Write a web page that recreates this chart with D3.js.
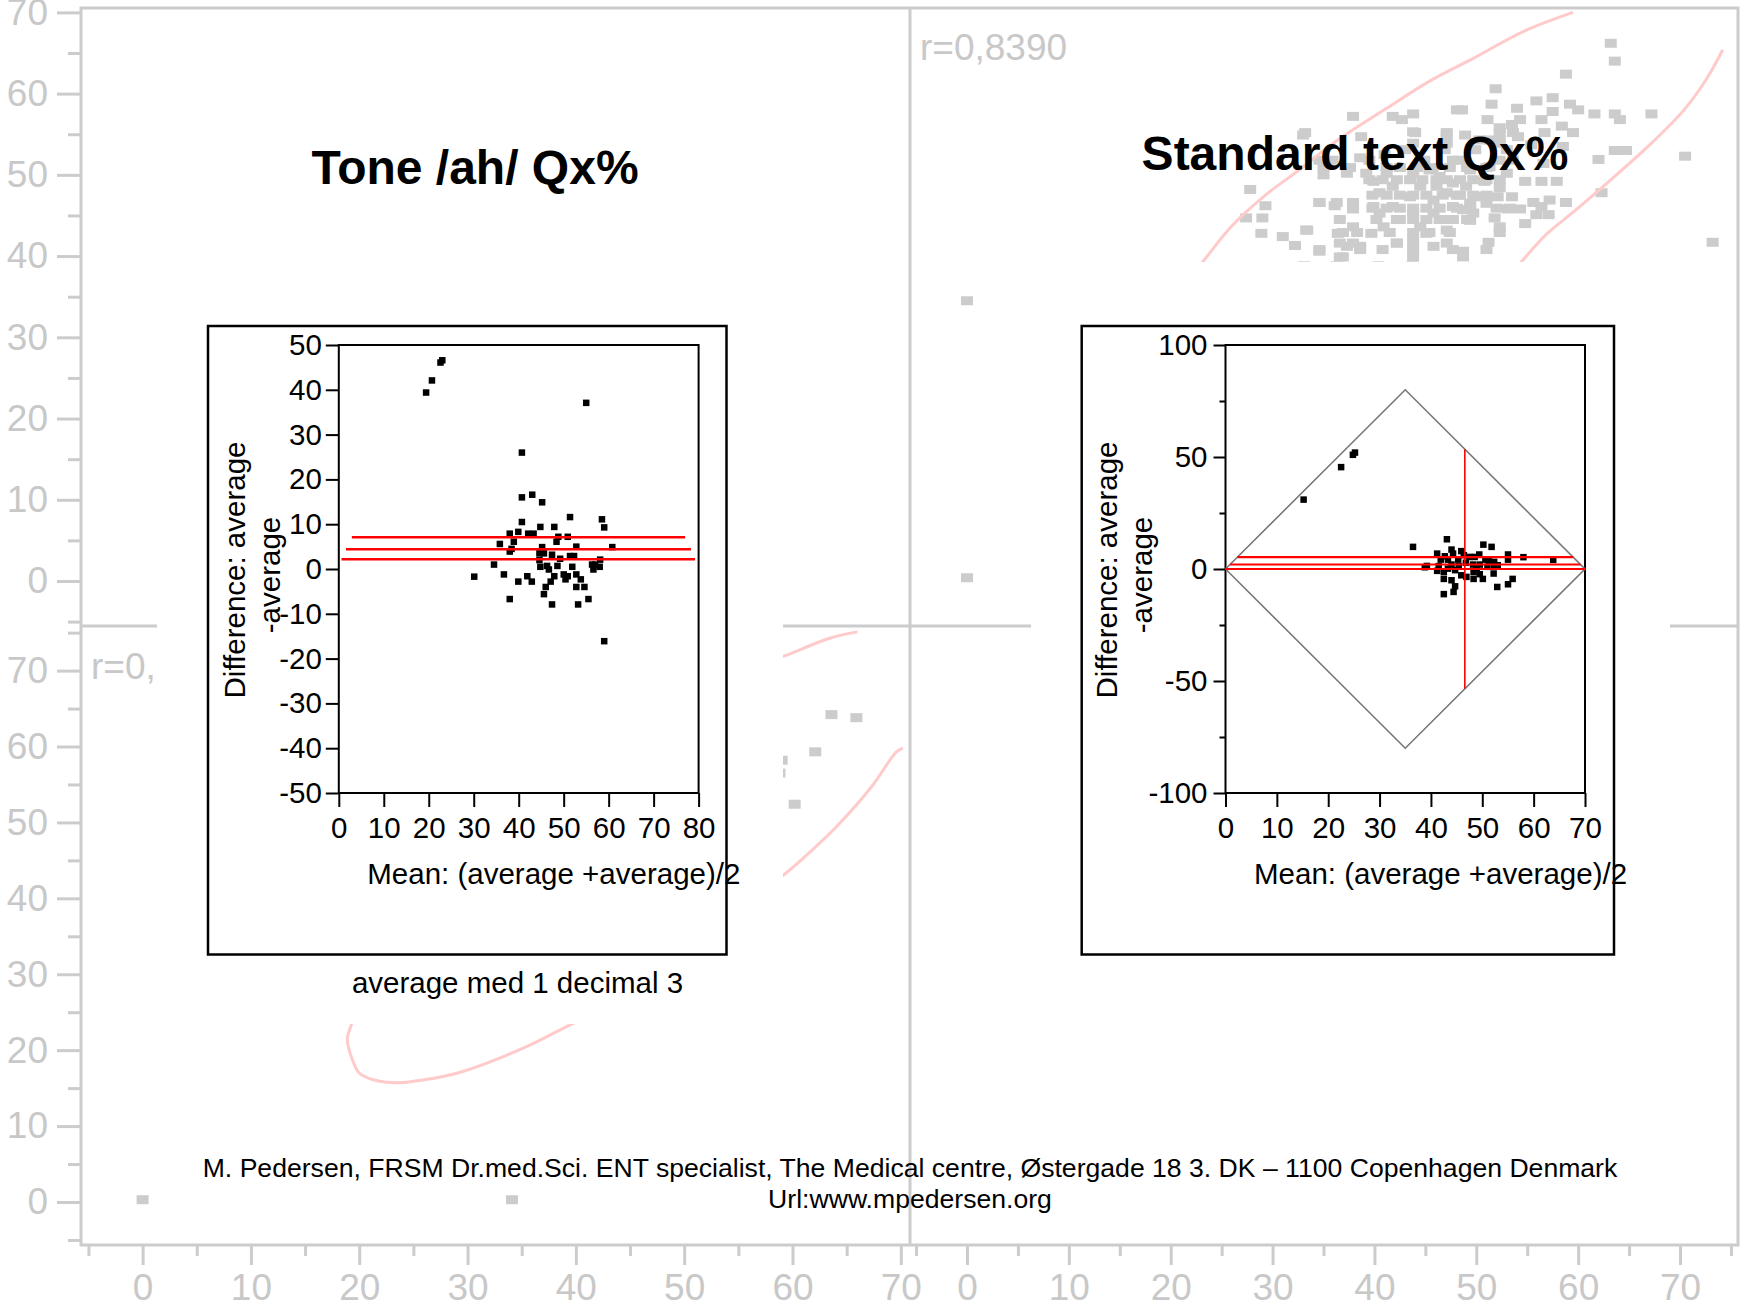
<!DOCTYPE html>
<html>
<head>
<meta charset="utf-8">
<script src="https://cdn.jsdelivr.net/npm/d3@7"></script>
<style>
  html, body { margin: 0; padding: 0; background: #fff; }
  svg { display: block; font-family: "Liberation Sans", Arial, sans-serif; }
</style>
</head>
<body>
<svg id="chart" width="1744" height="1310"></svg>
<script>
// ---- background scatter matrix (grey) ----
const GRID_TICKS = [0, 10, 20, 30, 40, 50, 60, 70];
const GRID_MINOR_SHORT = [-5, 5, 15, 25, 35, 45, 55, 65];
const GRID_MINOR_LONG = [-5, 5, 15, 25, 35, 45, 55, 65, 75];
const R_LABEL = "r=0,8390";

// upper right panel: standard text vs tone
const upperRightGrey = [
  [37.9,57.2],[33.0,54.9],[41.8,57.2],[42.7,56.8],[43.8,57.5],[43.8,55.3],[48.1,58.0],[47.1,54.9],
  [27.8,48.2],[29.3,46.2],[27.4,44.7],[29.0,44.7],[28.9,42.8],[33.3,43.2],[31.0,42.4],[32.2,41.3],
  [34.6,46.6],[36.1,46.2],[37.9,45.8],[36.6,44.5],[37.9,43.6],[36.4,42.8],[37.3,41.2],[38.6,41.2],
  [39.7,42.8],[34.6,40.6],[40.9,43.6],[42.2,41.6],[43.8,41.8],[45.1,42.8],[45.8,41.2],[47.1,43.2],
  [35.0,51.0],[35.0,50.0],[38.7,54.7],[39.9,49.2],[40.5,47.8],[41.8,48.6],[43.5,47.3],[44.5,48.6],
  [45.8,46.9],[47.1,47.8],[47.7,46.1],[41.8,46.1],[43.8,45.3],[45.8,45.3],[40.5,45.3],[39.9,46.1],
  [47.7,49.0],[46.4,49.8],[43.8,50.2],[41.2,50.2],[39.2,50.2],[37.3,50.2],[42.2,44.5],[44.5,43.6],
  [47.1,44.5],[46.1,48.6],[63.2,66.2],[63.6,64.0],[58.8,62.4],[51.9,60.6],[51.5,58.7],[48.6,58.0],
  [54.0,58.2],[55.9,59.1],[57.5,59.5],[57.5,57.8],[59.2,58.7],[60.0,58.0],[61.6,57.5],[63.6,57.5],
  [64.1,56.8],[67.2,57.5],[56.4,56.8],[54.3,56.8],[53.5,56.2],[52.3,55.8],[58.4,56.0],[56.7,55.2],
  [59.5,55.2],[52.3,54.3],[54.1,54.7],[55.4,53.7],[58.5,53.5],[63.6,53.0],[64.7,53.0],[62.0,51.9],
  [70.5,52.3],[53.0,53.1],[56.6,51.4],[54.8,49.2],[56.4,49.2],[57.9,49.2],[53.0,50.2],[51.3,51.0],
  [49.4,50.6],[49.0,48.6],[50.8,49.2],[52.3,48.4],[53.5,47.3],[52.1,47.3],[50.3,47.3],[62.3,47.8],
  [58.8,46.6],[55.6,46.6],[57.2,46.9],[56.4,46.1],[54.3,45.8],[53.1,45.8],[49.4,46.5],[51.0,46.5],
  [49.7,45.3],[48.7,45.7],[55.9,45.1],[57.1,45.1],[51.8,44.7],[54.8,44.0],[52.3,43.6],[49.4,44.4],
  [51.2,41.7],[48.7,40.6],[73.2,41.7],[36.9,39.9],[33.1,38.8],[36.3,38.8],[40.4,38.8],[43.7,38.8],
  [48.4,51.8],[49.9,53.1],[50.3,54.3],[48.9,54.9],[46.9,53.1],[44.9,51.8],[43.0,53.1],[41.0,52.5],
  [38.6,52.1],[45.4,50.6],[48.4,47.5],[51.3,54.3],[51.1,56.8],[0,34.5],[0,0.4],
  [39.5,49.4],[40.8,49.4],[42.2,49.4],[43.5,49.4],[44.7,49.4],[46.1,49.4],[47.1,49.4],[48.4,49.4],
  [49.7,49.4],[51.0,49.4],[52.3,49.4],[39.8,47.5],[41.2,47.5],[42.5,47.5],[43.8,47.5],[45.1,47.5],
  [46.7,47.5],[48.1,47.5],[49.7,47.5],[51.0,47.5],[39.8,45.9],[41.2,45.9],[42.5,45.9],[43.8,45.9],
  [45.1,45.9],[46.4,45.9],[48.1,45.9],[49.4,45.9],[52.0,45.9],[53.3,45.9],[40.2,44.5],[42.5,44.5],
  [43.8,44.5],[45.1,44.5],[46.4,44.5],[47.7,44.5],[49.1,44.5],[36.9,42.9],[38.3,42.9],[41.5,42.9],
  [43.8,42.9],[45.4,42.9],[47.4,42.9],[52.3,42.9],[37.6,50.9],[41.2,50.9],[42.5,50.9],[44.2,50.9],
  [45.7,50.9],[47.4,50.9],[49.1,50.9],[51.0,50.9],[34.6,51.8],[35.9,51.8],[39.5,51.8],[47.7,51.8],
  [52.3,51.8],[53.6,51.8],[43.8,53.9],[47.1,53.9],[52.3,53.9],[33.2,55.2],[44.0,55.2],[47.1,55.2],
  [52.3,55.2],[53.6,55.2],[34.6,46.6],[36.3,46.6],[37.9,46.6],[33.4,43.2],[34.6,40.8],[38.6,40.8],
  [40.8,40.8],[43.8,40.8],[47.7,40.8],[51.0,40.8],[36.6,39.9],[43.8,39.9],[48.7,39.9],[36.6,41.6],
  [37.9,41.6],[42.2,41.6],[47.1,41.6]
];
const upperRightEllipseTop = [
  [59.5,70.0],[54.7,67.7],[49.8,64.4],[45.5,61.6],[41.2,58.2],[36.3,54.2],[32.6,50.6],[29.3,47.5],
  [26.0,43.7],[23.4,39.7],[22.7,38.6]
];
const upperRightEllipseBottom = [
  [74.2,65.4],[72.6,61.8],[70.4,58.0],[67.2,53.9],[63.4,49.6],[59.6,45.5],[56.9,42.7],[54.5,39.4],
  [53.9,38.5]
];

// lower left panel: tone vs standard text
const lowerLeftGrey = [
  [63.6,64.2],[65.9,63.8],[62.1,59.3],[59.0,58.2],[58.8,56.5],[60.2,52.4],[0,0.3],[34.1,0.3]
];
const lowerLeftEllipseTop = [[58.0,71.3],[59.2,71.9],[63.5,74.3],[66.0,75.1]];
const lowerLeftEllipseRight = [
  [58.0,41.9],[59.2,43.1],[61.0,45.3],[64.1,49.5],[67.3,54.7],[69.6,59.3],[70.2,59.8]
];
const lowerLeftEllipseBottom = [
  [19.4,24.5],[19.3,23.5],[18.9,21.5],[19.3,19.0],[20.0,17.0],[21.3,16.1],[23.5,15.7],[26.0,16.1],
  [29.1,17.0],[32.5,18.7],[36.1,20.9],[39.7,23.5],[41.3,24.5]
];

// ---- inset 1: Tone /ah/ Qx% (Bland-Altman) ----
const toneXTicks = [0, 10, 20, 30, 40, 50, 60, 70, 80];
const toneYTicks = [-50, -40, -30, -20, -10, 0, 10, 20, 30, 40, 50];
const tonePoints = [
  [19.4,39.4],[20.7,42.1],[22.6,46.1],[23.0,46.6],[55.0,37.1],[40.7,26.0],[40.7,16.0],[43.0,16.6],
  [45.2,14.9],[51.4,11.6],[58.5,11.1],[59.0,9.3],[40.7,10.5],[44.8,9.4],[47.9,9.4],[38.0,7.9],
  [39.9,8.3],[42.1,7.9],[43.3,7.9],[35.8,5.6],[38.9,6.1],[48.8,7.2],[50.9,7.2],[48.4,6.1],
  [38.4,4.5],[38.0,3.9],[45.2,4.9],[52.8,5.0],[60.8,4.9],[44.6,3.5],[45.6,3.5],[47.4,3.2],
  [44.6,2.0],[49.2,2.3],[51.4,2.9],[52.3,2.9],[58.1,2.1],[34.5,1.0],[44.8,0.5],[46.3,0.7],
  [48.6,0.7],[51.9,0.5],[56.3,1.0],[57.0,1.0],[58.0,0.5],[56.6,-0.1],[46.7,-0.1],[30.1,-1.7],
  [36.7,-1.2],[41.9,-1.6],[47.9,-1.6],[50.0,-1.2],[50.9,-1.6],[52.8,-1.2],[39.9,-2.8],[42.9,-2.8],
  [47.1,-2.8],[50.4,-2.3],[53.8,-2.3],[46.0,-4.0],[52.8,-4.0],[54.6,-4.0],[45.6,-5.6],[38.0,-6.7],
  [55.5,-6.7],[47.4,-7.9],[53.2,-7.9],[59.0,-16.1]
];
const toneLimitY = [7.1, 4.4, 2.2];
const toneLimitFrom = [2.9, 1.6, 0.6];
const toneLimitTo = [77.0, 78.3, 79.2];

// ---- inset 2: Standard text Qx% (Bland-Altman) ----
const textXTicks = [0, 10, 20, 30, 40, 50, 60, 70];
const textYTicks = [-100, -50, 0, 50, 100];
const textYMinor = [-75, -25, 25, 75];
const textPoints = [
  [15.2,31.0],[22.5,45.5],[24.8,51.0],[25.2,52.0],[36.5,9.9],[43.1,13.3],[50.2,10.9],[51.8,9.9],
  [39.2,1.4],[38.8,0.8],[41.2,6.9],[44.0,8.7],[45.9,8.0],[42.7,5.7],[44.3,6.9],[41.9,4.2],
  [43.3,4.2],[45.3,4.2],[47.5,5.4],[48.5,5.4],[49.4,6.5],[50.6,4.2],[52.3,3.2],[55.0,6.5],
  [55.0,4.2],[58.0,5.3],[63.8,4.1],[41.5,1.3],[44.0,2.0],[45.4,1.3],[48.2,2.0],[49.5,2.0],
  [51.0,1.0],[52.3,1.0],[53.0,1.7],[42.5,-1.3],[44.7,-0.5],[45.9,-2.8],[48.3,-1.3],[49.5,-2.3],
  [52.2,-2.0],[42.5,-4.4],[44.0,-5.0],[48.3,-4.4],[50.1,-4.4],[55.0,-6.8],[55.9,-4.4],[44.7,-7.7],
  [52.9,-8.0],[44.4,-10.2],[42.5,-11.2],[46.9,-3.5],[41.2,-0.8],[48.9,0.2],[46.8,2.8],[43.3,0.2],
  [51.3,3.7],[46.4,6.2]
];
const textLimitY = [5.3, 2.0, 0.0];
const textLimitFrom = [2.3, 0.9, 0.0];
const textLimitTo = [67.7, 69.1, 70.0];
const textMeanX = 46.6;
const textMeanSpan = [-53.5, 53.5];
const textDiamond = [[0, 0], [35, 80], [70, 0], [35, -80], [0, 0]];

const Y_TITLE = ["Difference: average", "-average"];
const X_TITLE = "Mean: (average +average)/2";
const FOOTER = [
  "M. Pedersen, FRSM Dr.med.Sci. ENT specialist, The Medical centre, \u00D8stergade 18 3. DK \u2013 1100 Copenhagen Denmark",
  "Url:www.mpedersen.org"
];

const GREY = "#cccccc";
const GREY_TEXT = "#c8c8c8";
const PINK = "#ffcaca";
const FONT = "Liberation Sans, Arial, sans-serif";

const svg = d3.select("#chart");

// scales for the grey matrix
const leftX = d3.scaleLinear().domain([0, 70]).range([142.6, 900.8]);
const rightX = d3.scaleLinear().domain([0, 70]).range([967, 1680]);
const upperY = d3.scaleLinear().domain([0, 70]).range([581, 12.4]);
const lowerY = d3.scaleLinear().domain([0, 70]).range([1202, 670.6]);

const bg = svg.append("g");

function styleGrey(g) {
  g.attr("font-family", FONT).attr("font-size", 37);
  g.select(".domain").remove();
  g.selectAll(".tick line").attr("stroke", GREY).attr("stroke-width", 3);
  g.selectAll(".tick text").attr("fill", GREY_TEXT);
}

// left axes
[[upperY, GRID_MINOR_SHORT], [lowerY, GRID_MINOR_LONG]].forEach(([sc, minor]) => {
  bg.append("g").attr("transform", "translate(81,0)")
    .call(d3.axisLeft(sc).tickValues(GRID_TICKS).tickSize(24).tickPadding(9).tickFormat(String))
    .call(styleGrey);
  bg.append("g").attr("transform", "translate(81,0)")
    .call(d3.axisLeft(sc).tickValues(minor).tickSize(13).tickFormat(""))
    .call(styleGrey);
});
// bottom axes
[[leftX, GRID_MINOR_SHORT], [rightX, GRID_MINOR_LONG]].forEach(([sc, minor]) => {
  bg.append("g").attr("transform", "translate(0,1245)")
    .call(d3.axisBottom(sc).tickValues(GRID_TICKS).tickSize(20).tickPadding(9).tickFormat(String))
    .call(styleGrey);
  bg.append("g").attr("transform", "translate(0,1245)")
    .call(d3.axisBottom(sc).tickValues(minor).tickSize(11).tickFormat(""))
    .call(styleGrey);
});

// frame and panel dividers
bg.append("rect").attr("x", 81).attr("y", 8).attr("width", 1657).attr("height", 1237)
  .attr("fill", "none").attr("stroke", GREY).attr("stroke-width", 3);
bg.append("line").attr("x1", 910).attr("x2", 910).attr("y1", 8).attr("y2", 1245)
  .attr("stroke", GREY).attr("stroke-width", 3);
bg.append("line").attr("x1", 81).attr("x2", 1738).attr("y1", 626).attr("y2", 626)
  .attr("stroke", GREY).attr("stroke-width", 3);

function greyPoints(data, sx, sy) {
  bg.append("g").selectAll("rect").data(data).join("rect")
    .attr("x", d => sx(d[0]) - 6).attr("y", d => sy(d[1]) - 4.5)
    .attr("width", 12).attr("height", 9).attr("fill", GREY);
}
function pinkCurve(data, sx, sy) {
  const line = d3.line().x(d => sx(d[0])).y(d => sy(d[1])).curve(d3.curveCatmullRom);
  bg.append("path").datum(data).attr("d", line)
    .attr("fill", "none").attr("stroke", PINK).attr("stroke-width", 3);
}

greyPoints(upperRightGrey, rightX, upperY);
greyPoints(lowerLeftGrey, leftX, lowerY);
pinkCurve(upperRightEllipseTop, rightX, upperY);
pinkCurve(upperRightEllipseBottom, rightX, upperY);
pinkCurve(lowerLeftEllipseTop, leftX, lowerY);
pinkCurve(lowerLeftEllipseRight, leftX, lowerY);
pinkCurve(lowerLeftEllipseBottom, leftX, lowerY);

bg.append("text").attr("x", 920).attr("y", 60).attr("font-size", 37).attr("fill", GREY_TEXT).text(R_LABEL);
bg.append("text").attr("x", 91).attr("y", 679).attr("font-size", 37).attr("fill", GREY_TEXT).text(R_LABEL);

// white picture backgrounds pasted over the matrix
svg.append("rect").attr("x", 157).attr("y", 262).attr("width", 626).attr("height", 762).attr("fill", "#fff");
svg.append("rect").attr("x", 1031).attr("y", 262).attr("width", 639).attr("height", 762).attr("fill", "#fff");

// titles
svg.append("text").attr("x", 475).attr("y", 184).attr("text-anchor", "middle")
  .attr("font-size", 48).attr("font-weight", "bold").text("Tone /ah/ Qx%");
svg.append("text").attr("x", 1355).attr("y", 170).attr("text-anchor", "middle")
  .attr("font-size", 48).attr("font-weight", "bold").text("Standard text Qx%");

// ---- Bland-Altman insets ----
function drawInset(cfg) {
  const g = svg.append("g");
  g.append("rect").attr("x", cfg.box[0]).attr("y", cfg.box[1])
    .attr("width", cfg.box[2] - cfg.box[0]).attr("height", cfg.box[3] - cfg.box[1])
    .attr("fill", "#fff").attr("stroke", "#000").attr("stroke-width", 2.5);

  const x = cfg.x, y = cfg.y;
  const [x0, x1] = x.range(), [y0, y1] = y.range();

  const styleAxis = a => {
    a.attr("font-family", FONT).attr("font-size", 29.5);
    a.select(".domain").remove();
    a.selectAll(".tick line").attr("stroke", "#000").attr("stroke-width", 2);
    a.selectAll(".tick text").attr("fill", "#000");
  };
  g.append("g").attr("transform", `translate(${x0},0)`)
    .call(d3.axisLeft(y).tickValues(cfg.yTicks).tickSize(cfg.yTickSize).tickPadding(cfg.yPad).tickFormat(String))
    .call(styleAxis);
  if (cfg.yMinor) {
    g.append("g").attr("transform", `translate(${x0},0)`)
      .call(d3.axisLeft(y).tickValues(cfg.yMinor).tickSize(6).tickFormat(""))
      .call(styleAxis);
  }
  g.append("g").attr("transform", `translate(0,${y0})`)
    .call(d3.axisBottom(x).tickValues(cfg.xTicks).tickSize(14).tickPadding(10).tickFormat(String))
    .call(styleAxis);

  g.append("rect").attr("x", x0).attr("y", y1).attr("width", x1 - x0).attr("height", y0 - y1)
    .attr("fill", "none").attr("stroke", "#000").attr("stroke-width", 2);

  if (cfg.diamond) {
    g.append("path").datum(cfg.diamond)
      .attr("d", d3.line().x(d => x(d[0])).y(d => y(d[1])))
      .attr("fill", "none").attr("stroke", "#777").attr("stroke-width", 1.6);
  }

  g.append("g").selectAll("rect").data(cfg.points).join("rect")
    .attr("x", d => x(d[0]) - 3.2).attr("y", d => y(d[1]) - 3.2)
    .attr("width", 6.5).attr("height", 6.5).attr("fill", "#000");

  g.append("g").selectAll("line").data(cfg.limY).join("line")
    .attr("x1", (d, i) => x(cfg.limFrom[i])).attr("x2", (d, i) => x(cfg.limTo[i]))
    .attr("y1", d => y(d)).attr("y2", d => y(d))
    .attr("stroke", "#ff0000").attr("stroke-width", cfg.limWidth);

  if (cfg.meanX !== undefined) {
    g.append("line").attr("x1", x(cfg.meanX)).attr("x2", x(cfg.meanX))
      .attr("y1", y(cfg.meanSpan[0])).attr("y2", y(cfg.meanSpan[1]))
      .attr("stroke", "#ff0000").attr("stroke-width", 1.6);
  }

  Y_TITLE.forEach((t, i) => {
    g.append("text")
      .attr("transform", `translate(${cfg.yTitleX[i]},${cfg.yTitleY[i]}) rotate(-90)`)
      .attr("text-anchor", "middle").attr("font-size", 29.5).text(t);
  });
  g.append("text").attr("x", x0 + 28.5).attr("y", 884).attr("font-size", 29.5).text(X_TITLE);
}

drawInset({
  box: [208, 326, 726.5, 954.5],
  x: d3.scaleLinear().domain([0, 80]).range([338.8, 698.6]),
  y: d3.scaleLinear().domain([-50, 50]).range([793, 345]),
  xTicks: toneXTicks, yTicks: toneYTicks, yTickSize: 13, yPad: 4,
  points: tonePoints,
  limY: toneLimitY, limFrom: toneLimitFrom, limTo: toneLimitTo, limWidth: 2.5,
  yTitleX: [245, 280], yTitleY: [570, 575]
});

drawInset({
  box: [1081.7, 326, 1614, 954.5],
  x: d3.scaleLinear().domain([0, 70]).range([1225.5, 1585]),
  y: d3.scaleLinear().domain([-100, 100]).range([793, 345]),
  xTicks: textXTicks, yTicks: textYTicks, yMinor: textYMinor, yTickSize: 12, yPad: 6,
  points: textPoints, diamond: textDiamond,
  limY: textLimitY, limFrom: textLimitFrom, limTo: textLimitTo, limWidth: 2.2,
  meanX: textMeanX, meanSpan: textMeanSpan,
  yTitleX: [1117, 1152], yTitleY: [570, 575]
});

svg.append("text").attr("x", 517.5).attr("y", 993).attr("text-anchor", "middle")
  .attr("font-size", 29.5).text("average med 1 decimal 3");

svg.selectAll(".footer").data(FOOTER).join("text")
  .attr("class", "footer")
  .attr("x", 910).attr("y", (d, i) => 1177 + i * 31)
  .attr("text-anchor", "middle").attr("font-size", 26.6).text(d => d);
</script>
</body>
</html>
